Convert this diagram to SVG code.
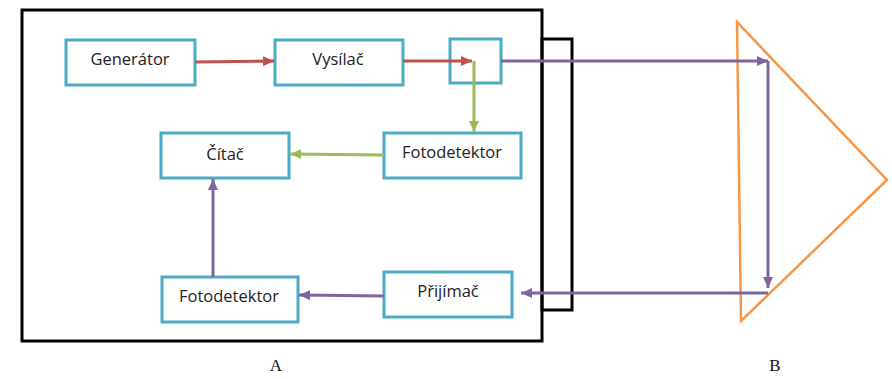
<svg xmlns="http://www.w3.org/2000/svg" width="892" height="379" viewBox="0 0 892 379">
<style>
.box{fill:#fff;stroke:#4bacc6;stroke-width:3}
.frame{fill:none;stroke:#000;stroke-width:3}
.t{font-family:"Open Sans","Liberation Sans",sans-serif;font-size:16.5px;fill:#222;text-anchor:middle}
.lbl{font-family:"Liberation Serif",serif;font-size:17px;fill:#111;text-anchor:middle}
.red{stroke:#c0504d;stroke-width:3;fill:none}
.grn{stroke:#9bbb59;stroke-width:3;fill:none}
.pur{stroke:#8064a2;stroke-width:3;fill:none}
</style>
<defs>
<marker id="ar" markerUnits="userSpaceOnUse" markerWidth="12" markerHeight="12" refX="11" refY="6" orient="auto"><path d="M0,1 L11,6 L0,11 Z" fill="#c0504d"/></marker>
<marker id="ag" markerUnits="userSpaceOnUse" markerWidth="12" markerHeight="12" refX="11" refY="6" orient="auto"><path d="M0,1 L11,6 L0,11 Z" fill="#9bbb59"/></marker>
<marker id="ap" markerUnits="userSpaceOnUse" markerWidth="12" markerHeight="12" refX="11" refY="6" orient="auto"><path d="M0,1 L11,6 L0,11 Z" fill="#8064a2"/></marker>
</defs>
<rect x="0" y="0" width="892" height="379" fill="#fff"/>
<g id="A">
<rect class="frame" x="22" y="10" width="520" height="331"/>
<text class="lbl" x="276" y="371">A</text>
</g>
<g id="panel">
<rect class="frame" x="542" y="39" width="30" height="271"/>
</g>
<g id="B">
<polygon points="737,22 887,180 741,321" fill="none" stroke="#f79646" stroke-width="2.5"/>
<text class="lbl" x="775" y="371">B</text>
</g>
<g id="generator"><rect class="box" x="66" y="40" width="129" height="45"/><text class="t" x="130" y="65">Generátor</text></g>
<g id="vysilac"><rect class="box" x="275" y="40" width="128" height="45"/><text class="t" x="338" y="65">Vysílač</text></g>
<g id="splitter"><rect class="box" x="450" y="39" width="51" height="44"/></g>
<g id="citac"><rect class="box" x="161" y="133" width="128" height="45"/><text class="t" x="225" y="160">Čítač</text></g>
<g id="fotodetektor1"><rect class="box" x="384" y="133" width="137" height="45"/><text class="t" x="452" y="158">Fotodetektor</text></g>
<g id="prijimac"><rect class="box" x="384" y="272" width="128" height="45"/><text class="t" x="448" y="297">Přijímač</text></g>
<g id="fotodetektor2"><rect class="box" x="162" y="277" width="136" height="45"/><text class="t" x="229" y="302">Fotodetektor</text></g>
<g id="connectors">
<line class="red" x1="195" y1="62" x2="274" y2="61" marker-end="url(#ar)"/>
<line class="red" x1="403" y1="61" x2="472" y2="61" marker-end="url(#ar)"/>
<line class="grn" x1="474" y1="61" x2="474" y2="132" marker-end="url(#ag)"/>
<line class="grn" x1="384" y1="155" x2="290" y2="154" marker-end="url(#ag)"/>
<line class="pur" x1="501" y1="61" x2="768" y2="61" marker-end="url(#ap)"/>
<line class="pur" x1="768" y1="61" x2="768" y2="288" marker-end="url(#ap)"/>
<line class="pur" x1="768" y1="293" x2="521" y2="293" marker-end="url(#ap)"/>
<line class="pur" x1="384" y1="296" x2="299" y2="295" marker-end="url(#ap)"/>
<line class="pur" x1="213" y1="277" x2="213" y2="179" marker-end="url(#ap)"/>
</g>
</svg>
